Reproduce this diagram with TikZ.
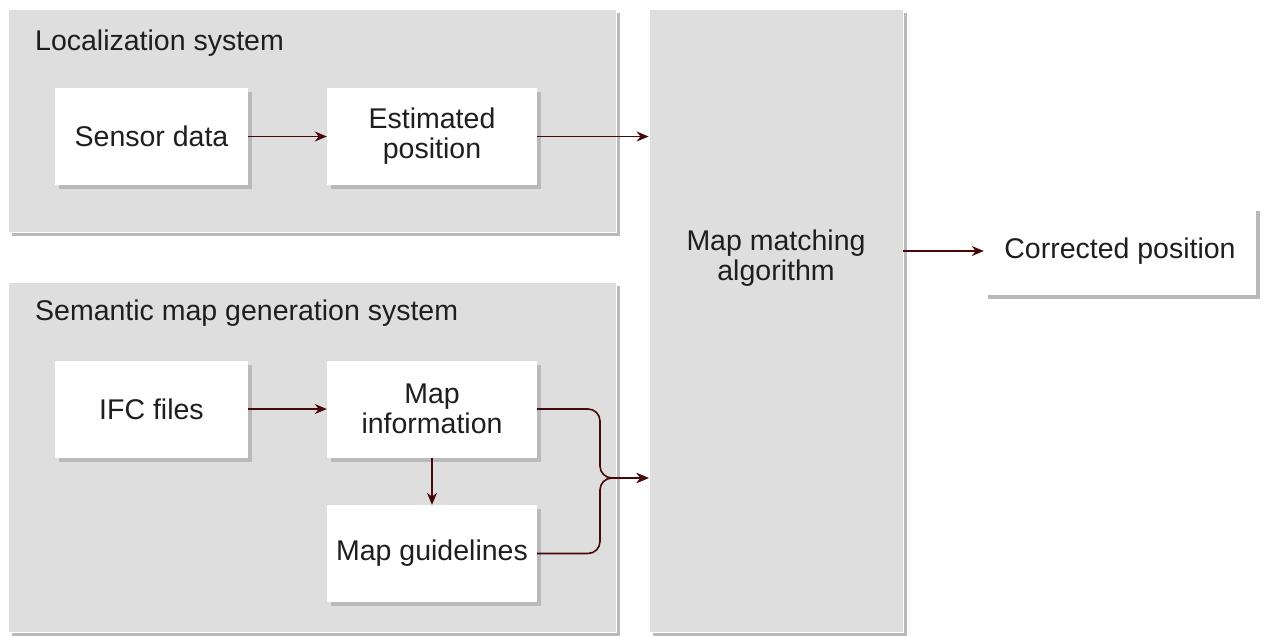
\documentclass[tikz,border=0pt]{standalone}
\usepackage{fontspec}
\setmainfont{Liberation Sans}
\usetikzlibrary{arrows.meta,shadows}
\definecolor{panelgray}{RGB}{222,222,222}
\definecolor{shadowgray}{RGB}{185,185,185}
\definecolor{txt}{RGB}{30,30,30}
\definecolor{arrowred}{RGB}{70,8,8}
\tikzset{
  shadowed/.style={general shadow={shadow xshift=4pt,shadow yshift=-4pt,fill=shadowgray}},
  panel/.style={shadowed,fill=panelgray,draw=white,line width=0.8pt,inner sep=0pt},
  whitebox/.style={shadowed,fill=white,draw=none,inner sep=0pt,text=txt,align=center,
    font=\fontsize{28.5}{30}\selectfont},
  title/.style={anchor=west,text=txt,inner sep=0pt,font=\fontsize{28.5}{32}\selectfont},
  conn/.style={draw=arrowred,line width=1.6pt,-{Stealth[length=12pt,width=10pt]}},
}
\begin{document}
\begin{tikzpicture}[x=1pt,y=-1pt]
\useasboundingbox[fill=white] (0,0) rectangle (1268,635);
% panels
\node[panel,minimum width=608,minimum height=223] (loc) at (312,120.5) {};
\node[panel,minimum width=608,minimum height=350] (sem) at (312,457) {};
\node[panel,minimum width=254,minimum height=623] (mm) at (776,320.5) {};
\node[title] (loct) at (35,43) {Localization system};
\node[title] (semt) at (35,313) {Semantic map generation system};
\node[text=txt,align=center,inner sep=0pt,font=\fontsize{28.5}{30}\selectfont] (mmt) at (776,258) {Map matching\\algorithm};
% boxes
\node[whitebox,minimum width=193,minimum height=97] (sensor) at (151.5,136.5) {Sensor data};
\node[whitebox,minimum width=210,minimum height=97] (est) at (432,136.5) {Estimated\\position};
\node[whitebox,minimum width=193,minimum height=97] (ifc) at (151.5,409) {IFC files};
\node[whitebox,minimum width=210,minimum height=97] (minfo) at (432,409) {Map\\information};
\node[whitebox,minimum width=210,minimum height=97] (mguide) at (432,553.5) {Map guidelines};
\node[whitebox,minimum width=272,minimum height=88] (corr) at (1120,251) {Corrected position};
% connectors
\coordinate (jn) at (600,478);
\draw[conn] (sensor) -- (est);
\draw[conn] (est.east) -- (mm.west |- est.east);
\draw[conn] (ifc) -- (minfo);
\draw[conn] (minfo) -- (mguide);
\draw[conn,rounded corners=12pt] (minfo.east) -| (jn) -- (mm.west |- jn);
\draw[conn,rounded corners=12pt] (mguide.east) -| (jn) -- (mm.west |- jn);
\draw[conn] (mm.east |- corr.west) -- (corr.west);
\end{tikzpicture}
\end{document}
